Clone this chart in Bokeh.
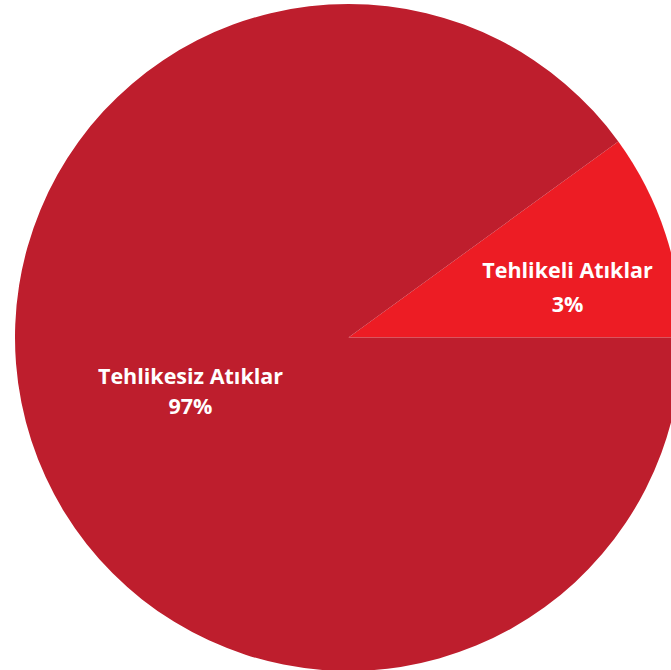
import numpy as np
from bokeh.plotting import figure
from bokeh.models import Range1d
from bokeh.core.properties import value
from bokeh.embed import file_html
from bokeh.resources import INLINE

# ---- data ----
categories = ["Tehlikeli Atıklar", "Tehlikesiz Atıklar"]
percent_labels = [3, 97]          # percentages printed on the chart
slice_sizes = [10, 90]            # slice sizes as drawn in the picture
colors = ["#ED1C24", "#BE1E2D"]

# ---- layout (pixels) ----
W, H = 671, 670
cx, cy, R = 348, H - 337, 333.5
label_pos = [(567, H - 269, H - 303), (190, H - 375, H - 405)]

p = figure(width=W, height=H, x_range=Range1d(0, W), y_range=Range1d(0, H),
           output_backend="svg", toolbar_location=None, min_border=0)
p.axis.visible = False
p.grid.visible = False
p.outline_line_color = None
p.background_fill_color = "white"
p.border_fill_color = "white"

fr = np.array(slice_sizes, dtype=float) / sum(slice_sizes)
ends = np.cumsum(fr) * 2 * np.pi
starts = np.concatenate([[0.0], ends[:-1]])
p.wedge(x=[cx] * len(categories), y=[cy] * len(categories), radius=R,
        start_angle=list(starts), end_angle=list(ends),
        fill_color=colors, line_color=None)

for (lx, ly1, ly2), name, pct in zip(label_pos, categories, percent_labels):
    p.text(x=[lx], y=[ly1], text=[name], text_align="center",
           text_baseline="alphabetic", text_color="white",
           text_font=value("Open Sans"), text_font_style="bold",
           text_font_size="21.5px")
    p.text(x=[lx], y=[ly2], text=[f"{pct}%"], text_align="center",
           text_baseline="alphabetic", text_color="white",
           text_font=value("Open Sans"), text_font_style="bold",
           text_font_size="21.5px")

open("out.html", "w").write(file_html(p, INLINE))
